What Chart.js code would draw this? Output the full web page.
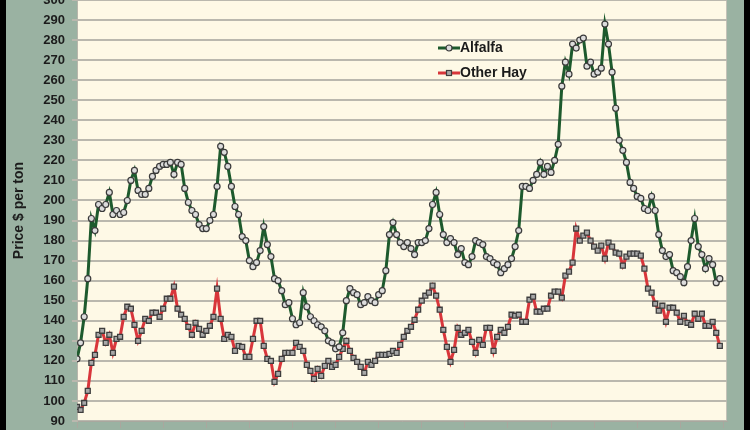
<!DOCTYPE html>
<html lang="en">
<head>
    <meta charset="UTF-8">
    <title>Alfalfa and Other Hay Prices</title>
    <script src="https://cdn.jsdelivr.net/npm/chart.js@4.4.1/dist/chart.umd.min.js"></script>
    <style>
        html, body { margin: 0; padding: 0; width: 750px; height: 430px; overflow: hidden; background: #000; }
        #wrap { position: absolute; left: 6px; top: -8px; width: 738px; height: 438px; background: #9ab2a2; }
    </style>
</head>
<body>
    <div id="wrap"><canvas id="hayChart" width="738" height="438"></canvas></div>

    <script>
        // monthly prices, $ per ton (15 years)
        const alfalfa = [
            121, 129, 142, 161, 191, 185, 198, 196, 198, 204,
            193, 195, 193, 194, 200, 210, 215, 205, 203, 203,
            206, 212, 215, 217, 218, 218, 219, 213, 219, 218,
            206, 199, 195, 193, 188, 186, 186, 190, 193, 207,
            227, 224, 217, 207, 197, 193, 182, 180, 170, 167,
            169, 175, 187, 178, 172, 161, 160, 155, 148, 149,
            141, 138, 139, 154, 147, 142, 140, 138, 137, 135,
            130, 129, 126, 127, 134, 150, 156, 154, 153, 148,
            149, 152, 150, 149, 153, 155, 165, 183, 189, 183,
            179, 177, 179, 176, 173, 179, 179, 180, 186, 198,
            204, 193, 183, 179, 181, 179, 173, 176, 169, 168,
            172, 180, 179, 178, 172, 171, 169, 168, 164, 166,
            168, 171, 177, 185, 207, 207, 206, 210, 213, 219,
            213, 217, 214, 220, 228, 257, 269, 263, 278, 276,
            280, 281, 267, 269, 263, 264, 266, 288, 278, 264,
            246, 230, 225, 219, 209, 206, 202, 201, 196, 195,
            202, 195, 183, 175, 172, 173, 165, 164, 162, 159,
            167, 180, 191, 177, 173, 166, 171, 168, 159, 161
        ];
        const otherHay = [
            97, 95.5, 99, 105, 119, 123, 133, 135, 129, 133,
            124, 131, 132, 142, 147, 146, 138, 130, 135, 141,
            140, 144, 144, 142, 146, 151, 151, 157, 146, 143,
            141, 137, 133, 139, 136, 133, 135, 137.5, 142, 156,
            141, 131, 133, 132, 125, 127.5, 127, 122, 122, 131,
            140, 140, 127.5, 121, 120, 109.5, 113.5, 121, 124, 124,
            124, 129, 127, 125, 118, 115, 111, 116, 112.5, 117.5,
            120, 117, 118, 122, 126, 130, 125, 121.5, 119.5, 117,
            114, 119.5, 118, 120, 123, 123, 123, 123.5, 125, 124,
            128, 132, 135, 137, 140.5, 145.5, 150, 152.5, 154, 157.5,
            152.5, 145.5, 135.5, 127, 119.5, 125.5, 136.5, 133, 134, 135.5,
            129.5, 124, 130.5, 128, 136.5, 136.5, 125, 132, 135.5, 134,
            137, 143, 142.5, 143, 139.5, 139.5, 150.5, 152, 144.5, 144.5,
            146, 146, 152.5, 154.5, 154.5, 151.5, 162.5, 164.5, 169, 186,
            180, 182.5, 184, 180, 177, 175, 177.5, 171, 179, 177,
            174, 173.5, 167.5, 172, 173.5, 173.5, 173.5, 172.5, 166, 156,
            154, 148.5, 145, 147.5, 139.5, 146.5, 146.5, 144, 139.5, 142.5,
            139, 138, 143.5, 141, 143.5, 137.5, 137.5, 139.5, 134, 127.5
        ];
        const seriesNames = ['Alfalfa', 'Other Hay'];
        const yTicks = { min: 90, max: 300, step: 10 };
        const monthsPerYear = 12;

        const FONT = "'Liberation Sans', Arial, sans-serif";
        const GREEN = '#1d5a2d';
        const RED = '#d8363b';

        // little line + marker pictures for the legend
        function legendMark(color, shape) {
            const c = document.createElement('canvas');
            c.width = 22; c.height = 10;
            const g = c.getContext('2d');
            g.strokeStyle = color;
            g.lineWidth = 3;
            g.beginPath(); g.moveTo(0, 5); g.lineTo(22, 5); g.stroke();
            g.lineWidth = 1.2;
            if (shape === 'circle') {
                g.fillStyle = '#dcdcdc'; g.strokeStyle = '#3a3a3a';
                g.beginPath(); g.arc(11, 5, 3, 0, Math.PI * 2); g.fill(); g.stroke();
            } else {
                g.fillStyle = '#a8a8a8'; g.strokeStyle = '#3e3e3e';
                g.fillRect(8.5, 2.5, 5, 5); g.strokeRect(8.5, 2.5, 5, 5);
            }
            return c;
        }
        const legendMarks = [legendMark(GREEN, 'circle'), legendMark(RED, 'rect')];

        const plotBg = {
            id: 'plotBg',
            beforeDraw(chart) {
                const { ctx, chartArea: a } = chart;
                ctx.save();
                ctx.fillStyle = '#fef9e6';
                ctx.fillRect(a.left, a.top, a.width, a.height);
                ctx.strokeStyle = '#c4c2b8';
                ctx.lineWidth = 1;
                ctx.strokeRect(a.left + 0.5, a.top + 0.5, a.width - 1, a.height);
                ctx.restore();
            }
        };

        // put the legend inside the plot, near the top middle
        const legendSpot = {
            id: 'legendSpot',
            afterLayout(chart) {
                const lg = chart.legend;
                const w = lg.width, h = lg.height;
                lg.left = 428; lg.top = 38;
                lg.right = lg.left + w; lg.bottom = lg.top + h;
            }
        };

        const toPoints = arr => arr.map((v, i) => ({ x: i, y: v }));

        new Chart(document.getElementById('hayChart'), {
            type: 'line',
            data: {
                datasets: [
                    {
                        label: seriesNames[0],
                        data: toPoints(alfalfa),
                        borderColor: GREEN,
                        borderWidth: 3,
                        tension: 0,
                        pointStyle: 'circle',
                        pointRadius: 3,
                        pointBackgroundColor: '#dcdcdc',
                        pointBorderColor: '#3a3a3a',
                        pointBorderWidth: 1.2
                    },
                    {
                        label: seriesNames[1],
                        data: toPoints(otherHay),
                        borderColor: RED,
                        borderWidth: 3,
                        tension: 0,
                        pointStyle: 'rect',
                        pointRadius: 3.5,
                        pointBackgroundColor: '#a8a8a8',
                        pointBorderColor: '#3e3e3e',
                        pointBorderWidth: 1.3
                    }
                ]
            },
            options: {
                responsive: false,
                animation: false,
                devicePixelRatio: 1,
                layout: { padding: { left: 0, right: 17, top: 8, bottom: 0 } },
                plugins: {
                    tooltip: { enabled: false },
                    legend: {
                        position: 'chartArea',
                        align: 'start',
                        labels: {
                            usePointStyle: true,
                            pointStyleWidth: 8,
                            padding: 11,
                            color: '#1a1a1a',
                            font: { family: FONT, size: 14, weight: 'bold' },
                            generateLabels: chart => chart.data.datasets.map((ds, i) => ({
                                text: ds.label,
                                pointStyle: legendMarks[i],
                                fillStyle: 'transparent',
                                strokeStyle: 'transparent',
                                lineWidth: 0,
                                hidden: false,
                                datasetIndex: i,
                                fontColor: '#1a1a1a'
                            }))
                        }
                    }
                },
                scales: {
                    x: {
                        type: 'linear',
                        min: 0,
                        max: alfalfa.length + 1,
                        border: { display: true, color: '#a9a79e', width: 1 },
                        grid: { drawOnChartArea: false, drawTicks: true, tickLength: 7, color: '#a9a79e', lineWidth: 1 },
                        ticks: { display: false, stepSize: monthsPerYear, includeBounds: false },
                        afterFit: s => { s.height = 9; s.paddingLeft = 0; s.paddingRight = 0; }
                    },
                    y: {
                        min: yTicks.min,
                        max: yTicks.max,
                        border: { display: true, color: '#b8b6ac', width: 1 },
                        grid: { color: '#bab8ae', lineWidth: 2, drawTicks: true, tickLength: 5 },
                        ticks: {
                            stepSize: yTicks.step,
                            padding: 7,
                            color: '#1c1c1c',
                            font: { family: FONT, size: 13, weight: 'bold' }
                        },
                        title: {
                            display: true,
                            text: 'Price $ per ton',
                            color: '#1c1c1c',
                            font: { family: FONT, size: 14, weight: 'bold' },
                            padding: { top: 5, bottom: 0 }
                        },
                        afterFit: s => { s.width = 71; s.paddingTop = 0; s.paddingBottom = 0; }
                    }
                }
            },
            plugins: [plotBg, legendSpot]
        });
    </script>
</body>
</html>
